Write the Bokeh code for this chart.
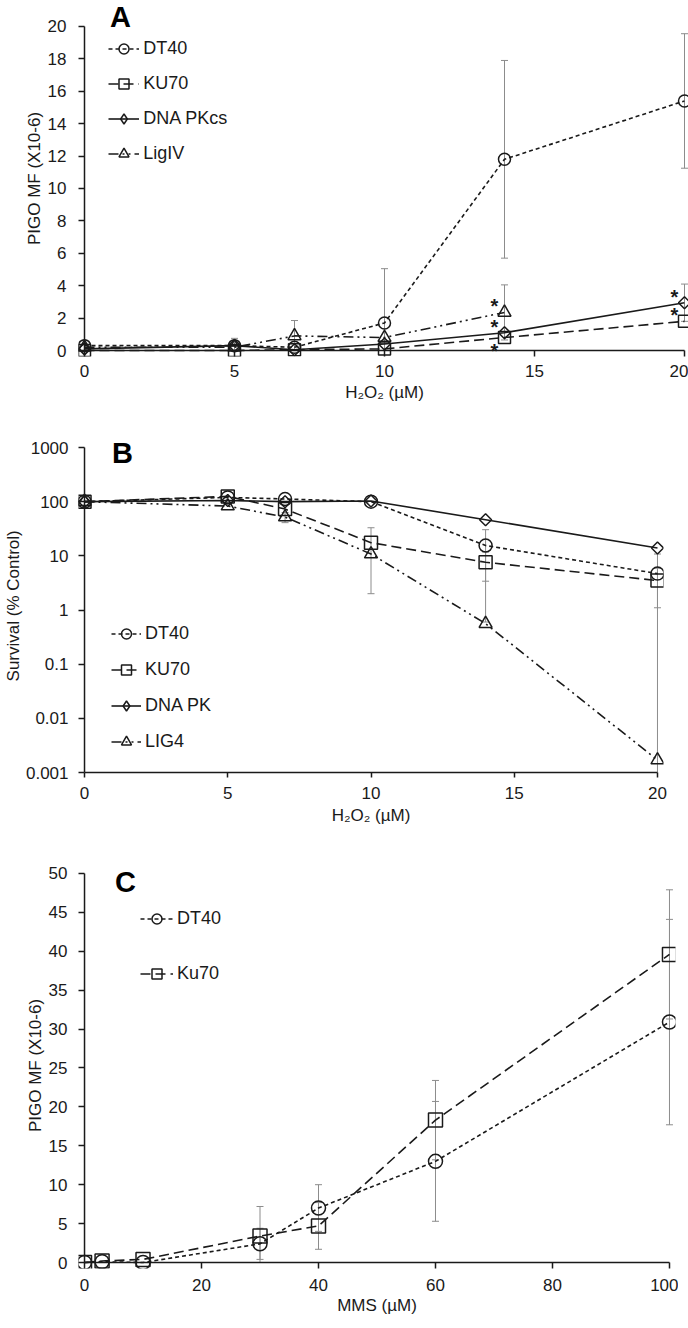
import math
from bokeh.plotting import figure
from bokeh.layouts import column
from bokeh.models import (ColumnDataSource, Whisker, TeeHead, Legend, LegendItem,
                          Label, FixedTicker, Range1d)
from bokeh.core.properties import value
from bokeh.embed import file_html
from bokeh.resources import INLINE

FONT = "Liberation Sans"
INK = "#1a1a1a"
ERR = "#8c8c8c"

# ---------------- Panel A : PIGO MF vs H2O2 ----------------
a_dose = [0, 5, 7, 10, 14, 20]
a_dt40 = [0.3, 0.3, 0.2, 1.7, 11.8, 15.4]
a_dt40_err = [0, 0.45, 0, 3.35, 6.1, 4.15]
a_ku70 = [0.0, 0.0, 0.05, 0.1, 0.8, 1.8]
a_ku70_err = [0, 0, 0, 0, 0, 0]
a_dnapk = [0.1, 0.3, 0.05, 0.4, 1.1, 2.95]
a_dnapk_err = [0, 0, 0, 0, 0, 1.15]
a_lig4_dose = [0, 5, 7, 10, 14]
a_lig4 = [0.2, 0.2, 0.9, 0.8, 2.35]
a_lig4_err = [0, 0, 0.95, 0, 1.7]
a_labels = ["DT40", "KU70", "DNA PKcs", "LigIV"]
a_x_ticks = [0, 5, 10, 15, 20]
a_y_ticks = [0, 2, 4, 6, 8, 10, 12, 14, 16, 18, 20]
# significance stars: (series index, dose, above=+1 / below=-1)
star_series = [3, 2, 1, 2, 1]
star_dose = [14, 14, 14, 20, 20]
star_side = [1, 1, -1, 1, 1]

# ---------------- Panel B : survival vs H2O2 ----------------
b_dose = [0, 5, 7, 10, 14, 20]
b_dt40 = [100, 120, 112, 100, 15.5, 4.7]
b_dt40_err = [0, 0, 0, 0, 14.9, 6.1]
b_ku70 = [100, 125, 73, 17.5, 7.6, 3.5]
b_ku70_err = [0, 0, 0, 15.5, 4.2, 2.4]
b_dnapk = [100, 105, 100, 103, 46.5, 14]
b_dnapk_err = [0, 0, 0, 0, 0, 0]
b_lig4 = [100, 83, 52, 10.8, 0.56, 0.0017]
b_lig4_err = [0, 0, 11, 0, 0, 0]
b_labels = ["DT40", "KU70", "DNA PK", "LIG4"]
b_x_ticks = [0, 5, 10, 15, 20]
b_y_ticks = [0.001, 0.01, 0.1, 1, 10, 100, 1000]
b_y_tick_labels = ["0.001", "0.01", "0.1", "1", "10", "100", "1000"]

# ---------------- Panel C : PIGO MF vs MMS ----------------
c_dose = [0, 3, 10, 30, 40, 60, 100]
c_dt40 = [0, 0.1, 0, 2.4, 7.0, 13.0, 30.9]
c_dt40_err = [0, 0, 0, 2.0, 3.0, 7.7, 13.2]
c_ku70 = [0, 0.2, 0.4, 3.4, 4.7, 18.3, 39.6]
c_ku70_err = [0, 0, 0, 3.8, 3.0, 5.1, 8.3]
c_labels = ["DT40", "Ku70"]
c_x_ticks = [0, 20, 40, 60, 80, 100]
c_y_ticks = [0, 5, 10, 15, 20, 25, 30, 35, 40, 45, 50]

DASH = {"dt40": "4 3", "ku70": "10 5", "dnapk": "solid", "lig4": "10 4 2 4 2 4"}


def style(p, xticks, yticks, xlabel, ylabel, pad_x, pad_y, x_std, x_lab_std,
          y_std, y_lab_std, x_line=False):
    p.grid.visible = False
    p.outline_line_color = None
    p.background_fill_color = "white"
    p.border_fill_color = "white"
    for ax in (p.xaxis[0], p.yaxis[0]):
        ax.axis_line_color = None
        ax.major_tick_line_color = INK
        ax.major_tick_line_width = 1.5
        ax.minor_tick_line_color = None
        ax.minor_tick_in = 0
        ax.minor_tick_out = 0
        ax.major_label_text_font = FONT
        ax.major_label_text_font_size = "17px"
        ax.major_label_text_color = INK
        ax.axis_label_text_font = FONT
        ax.axis_label_text_font_size = "17px"
        ax.axis_label_text_font_style = "normal"
        ax.axis_label_text_color = INK
    xa, ya = p.xaxis[0], p.yaxis[0]
    xa.ticker = FixedTicker(ticks=xticks)
    ya.ticker = FixedTicker(ticks=yticks)
    if x_line:
        xa.axis_line_color = INK
        xa.axis_line_width = 1.5
        xa.bounds = (xticks[0], xticks[-1])
        xa.major_tick_in = 0
        xa.major_tick_out = 5
    else:
        xa.major_tick_in = pad_y
        xa.major_tick_out = 0
    ya.major_tick_in = pad_x
    ya.major_tick_out = 0
    xa.major_label_standoff = x_std
    xa.axis_label_standoff = x_lab_std
    ya.major_label_standoff = y_std
    ya.axis_label_standoff = y_lab_std
    xa.axis_label = xlabel
    ya.axis_label = ylabel


def axis_lines(p, xticks, yticks, draw_x=True):
    x0 = [0]
    y0 = [yticks[0]]
    x1 = [0]
    y1 = [yticks[-1]]
    if draw_x:
        x0.append(xticks[0]); y0.append(yticks[0]); x1.append(xticks[-1]); y1.append(yticks[0])
    p.segment(x0=x0, y0=y0, x1=x1, y1=y1, line_color=INK, line_width=1.5)


def series(p, xs, ys, dash, marker, size, angle=0.0, legend_marker=None):
    src = ColumnDataSource(dict(x=xs, y=ys))
    ln = p.line("x", "y", source=src, line_color=INK, line_width=1.6, line_dash=dash)
    sc = p.scatter("x", "y", source=src, marker=marker, size=size, angle=angle,
                   line_color=INK, line_width=1.5, fill_color=None)
    if legend_marker is None:
        return [ln, sc]
    # legend glyphs ignore marker rotation: a zero-size twin supplies the legend diamond
    lm = p.scatter("x", "y", source=src, marker=legend_marker, size=0,
                   line_color=INK, line_width=1.5, fill_color=None)
    return [ln, lm]


def errors(p, xs, ys, errs, floor):
    up = dict(x=[], y=[], t=[])
    lo = dict(x=[], y=[], b=[])
    lo_open = dict(x=[], y=[], b=[])
    for x, y, e in zip(xs, ys, errs):
        if e <= 0:
            continue
        up["x"].append(x); up["y"].append(y); up["t"].append(y + e)
        b = y - e
        if b > floor:
            lo["x"].append(x); lo["y"].append(y); lo["b"].append(b)
        else:
            lo_open["x"].append(x); lo_open["y"].append(y); lo_open["b"].append(floor)
    common = dict(line_color=ERR, line_width=1, level="underlay")
    if up["x"]:
        p.add_layout(Whisker(source=ColumnDataSource(up), base="x", upper="t", lower="y",
                             upper_head=TeeHead(size=7, line_color=ERR, line_width=1),
                             lower_head=None, **common))
    if lo["x"]:
        p.add_layout(Whisker(source=ColumnDataSource(lo), base="x", upper="y", lower="b",
                             lower_head=TeeHead(size=7, line_color=ERR, line_width=1),
                             upper_head=None, **common))
    if lo_open["x"]:
        p.add_layout(Whisker(source=ColumnDataSource(lo_open), base="x", upper="y", lower="b",
                             lower_head=None, upper_head=None, **common))


def legend(p, entries, loc, glyph_w, spacing):
    items = [LegendItem(label=lab, renderers=r) for lab, r in entries]
    lg = Legend(items=items, location=loc, glyph_width=glyph_w, glyph_height=25,
                label_height=25, spacing=spacing, padding=0, margin=0,
                border_line_color=None, background_fill_alpha=0,
                label_text_font=FONT, label_text_font_size="18px",
                label_text_color=INK, label_standoff=4)
    p.add_layout(lg)


def panel_letter(p, text, x, y, dx, dy):
    p.add_layout(Label(x=x, y=y, x_offset=dx, y_offset=dy, text=text,
                       text_font=FONT, text_font_style="bold", text_font_size="29px",
                       text_color="black", text_align="center", text_baseline="middle"))


common_fig = dict(output_backend="svg", toolbar_location=None, tools="")
DIAMOND = dict(marker="square", size=8.5, angle=math.pi / 4, legend_marker="diamond")

# ================= Panel A =================
pa = figure(frame_width=612, frame_height=356,
            x_range=Range1d(-0.2, 20.2), y_range=Range1d(-0.37, 21.6),
            min_border_left=70, min_border_right=6, min_border_top=0, min_border_bottom=78,
            **common_fig)
style(pa, a_x_ticks, a_y_ticks, "H₂O₂ (µM)", "PIGO MF (X10-6)", 6, 6,
      x_std=8, x_lab_std=3, y_std=12, y_lab_std=1)
errors(pa, a_dose, a_dt40, a_dt40_err, 0)
errors(pa, a_dose, a_ku70, a_ku70_err, 0)
errors(pa, a_dose, a_dnapk, a_dnapk_err, 0)
errors(pa, a_lig4_dose, a_lig4, a_lig4_err, 0)
axis_lines(pa, a_x_ticks, a_y_ticks)
ra1 = series(pa, a_dose, a_dt40, DASH["dt40"], "circle", 12)
ra2 = series(pa, a_dose, a_ku70, DASH["ku70"], "square", 12)
ra3 = series(pa, a_dose, a_dnapk, DASH["dnapk"], **DIAMOND)
ra4 = series(pa, a_lig4_dose, a_lig4, DASH["lig4"], "triangle", 13)
legend(pa, list(zip(a_labels, [ra1, ra2, ra3, ra4])), (45, 190), 31, 10)

a_series = [(a_dose, a_dt40), (a_dose, a_ku70), (a_dose, a_dnapk), (a_lig4_dose, a_lig4)]
sx, sy, sdy = [], [], []
for si, d, side in zip(star_series, star_dose, star_side):
    xs, ys = a_series[si]
    sx.append(d)
    sy.append(ys[xs.index(d)])
    sdy.append(-10 + 4 if side > 0 else 9 + 4)
pa.text(x="x", y="y", text=value("*"), source=ColumnDataSource(dict(x=sx, y=sy, dy=sdy)),
        x_offset=-10, y_offset="dy", text_font=value(FONT), text_font_size="20px",
        text_font_style="bold", text_color=INK, text_align="center", text_baseline="middle")
panel_letter(pa, "A", 0, 20, 36, 9)

# ================= Panel B =================
pb = figure(frame_width=585, frame_height=338, y_axis_type="log",
            x_range=Range1d(-0.21, 20.21), y_range=Range1d(0.001, 1738),
            min_border_left=68, min_border_right=10, min_border_top=0, min_border_bottom=90,
            **common_fig)
style(pb, b_x_ticks, b_y_ticks, "H₂O₂ (µM)", "Survival  (% Control)", 6, 0,
      x_std=9, x_lab_std=4, y_std=10, y_lab_std=0, x_line=True)
pb.yaxis[0].major_label_overrides = {t: s for t, s in zip(b_y_ticks, b_y_tick_labels)}
errors(pb, b_dose, b_dt40, b_dt40_err, 0.001)
errors(pb, b_dose, b_ku70, b_ku70_err, 0.001)
errors(pb, b_dose, b_dnapk, b_dnapk_err, 0.001)
errors(pb, b_dose, b_lig4, b_lig4_err, 0.001)
axis_lines(pb, b_x_ticks, b_y_ticks, draw_x=False)
rb1 = series(pb, b_dose, b_dt40, DASH["dt40"], "circle", 13)
rb2 = series(pb, b_dose, b_ku70, DASH["ku70"], "square", 13)
rb3 = series(pb, b_dose, b_dnapk, DASH["dnapk"], **DIAMOND)
rb4 = series(pb, b_dose, b_lig4, DASH["lig4"], "triangle", 13)
legend(pb, list(zip(b_labels, [rb1, rb2, rb3, rb4])), (33, 18), 30, 11)
panel_letter(pb, "B", 0, 1000, 38, -5)

# ================= Panel C =================
pc = figure(frame_width=597, frame_height=406,
            x_range=Range1d(-1.03, 101.03), y_range=Range1d(-0.77, 51.41),
            min_border_left=71, min_border_right=10, min_border_top=0, min_border_bottom=58,
            **common_fig)
style(pc, c_x_ticks, c_y_ticks, "MMS (µM)", "PIGO MF (X10-6)", 6, 6,
      x_std=10, x_lab_std=2, y_std=11, y_lab_std=1)
errors(pc, c_dose, c_dt40, c_dt40_err, 0)
errors(pc, c_dose, c_ku70, c_ku70_err, 0)
axis_lines(pc, c_x_ticks, c_y_ticks)
rc1 = series(pc, c_dose, c_dt40, DASH["dt40"], "circle", 14)
rc2 = series(pc, c_dose, c_ku70, DASH["ku70"], "square", 14)
legend(pc, list(zip(c_labels, [rc1, rc2])), (62, 282), 33, 30)
panel_letter(pc, "C", 0, 50, 41, -9)

layout = column(pa, pb, pc)
open("out.html", "w").write(file_html(layout, INLINE))
